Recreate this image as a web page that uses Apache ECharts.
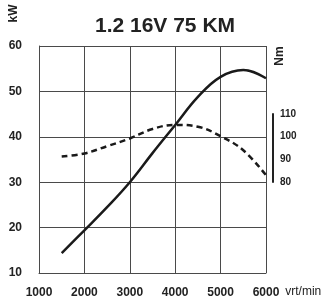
<!DOCTYPE html>
<html>
<head>
<meta charset="utf-8">
<script src="https://cdn.jsdelivr.net/npm/echarts@6/dist/echarts.min.js"></script>
<style>
    html, body { margin: 0; padding: 0; background: #fff; }
    #chartDiv { width: 331px; height: 303px; }
</style>
</head>
<body>
<div id="chartDiv"></div>
<script>
// obroty silnika (vrt/min)
var rpm = [1500, 2000, 2500, 3000, 3500, 4000, 4500, 5000, 5500, 6000];
// moc (kW) - linia ciagla
var power = [14.4, 19.4, 24.5, 30, 36.4, 42.6, 48.8, 53.2, 54.7, 52.9];
// moment obrotowy (Nm) - linia przerywana
var torque = [91.2, 92.6, 95.8, 99.2, 103.4, 105.2, 104.4, 100.2, 94, 83];

var kwTicks = [10, 20, 30, 40, 50, 60];
var nmTicks = [80, 90, 100, 110];

var fontFam = "'Liberation Sans Narrow', 'Liberation Sans', Arial, sans-serif";
var gridColor = '#4a4a4a';

function pairs(xs, ys) {
    var out = [];
    for (var i = 0; i < xs.length; i++) {
        out.push([xs[i], ys[i]]);
    }
    return out;
}

var myChart = echarts.init(document.getElementById('chartDiv'));

var option = {
    animation: false,
    title: {
        text: '1.2 16V 75 KM',
        left: 160,
        top: 11,
        textAlign: 'center',
        textStyle: { fontFamily: fontFam, fontSize: 21, fontWeight: 'bold', color: '#222' }
    },
    graphic: [
        {
            type: 'text', x: 13.5, y: 13.5, rotation: Math.PI / 2,
            style: { text: 'kW', fontFamily: fontFam, fontSize: 12, fontWeight: 'bold', fill: '#222', align: 'center', verticalAlign: 'middle' }
        },
        {
            type: 'text', x: 280, y: 56, rotation: Math.PI / 2,
            style: { text: 'Nm', fontFamily: fontFam, fontSize: 12, fontWeight: 'bold', fill: '#222', align: 'center', verticalAlign: 'middle' }
        }
    ],
    grid: [
        { left: 39, right: 65, top: 46, bottom: 30 },
        { left: 39, right: 65, top: 114, bottom: 121 }
    ],
    xAxis: [
        {
            gridIndex: 0,
            type: 'value',
            min: 1000,
            max: 6000,
            interval: 1000,
            name: 'vrt/min',
            nameLocation: 'end',
            nameGap: 19,
            nameTextStyle: { fontFamily: fontFam, fontSize: 12, color: '#222', verticalAlign: 'top', padding: [13, 0, 0, 0] },
            axisLine: { show: true, lineStyle: { color: gridColor, width: 1 } },
            axisTick: { show: false },
            axisLabel: {
                margin: 14, fontFamily: fontFam, fontSize: 12, fontWeight: 'bold', color: '#222',
                showMinLabel: true, showMaxLabel: true,
                formatter: function (v) { return String(v); }
            },
            splitLine: { show: true, lineStyle: { color: gridColor, width: 1 } }
        },
        {
            gridIndex: 1,
            type: 'value',
            min: 1000,
            max: 6000,
            show: false
        }
    ],
    yAxis: [
        {
            gridIndex: 0,
            type: 'value',
            min: kwTicks[0],
            max: kwTicks[kwTicks.length - 1],
            interval: 10,
            axisLine: { show: true, lineStyle: { color: gridColor, width: 1 } },
            axisTick: { show: false },
            axisLabel: { margin: 17, fontFamily: fontFam, fontSize: 12, fontWeight: 'bold', color: '#222', padding: [0, 0, 7, 0] },
            splitLine: { show: true, lineStyle: { color: gridColor, width: 1 } }
        },
        {
            gridIndex: 1,
            type: 'value',
            position: 'right',
            offset: 7,
            min: nmTicks[0],
            max: nmTicks[nmTicks.length - 1],
            interval: 10,
            axisLine: { show: true, lineStyle: { color: '#222', width: 2 } },
            axisTick: { show: false },
            axisLabel: { margin: 7, fontFamily: fontFam, fontSize: 10, fontWeight: 'bold', color: '#222', padding: [0, 0, 4, 0] },
            splitLine: { show: false }
        }
    ],
    series: [
        {
            name: 'kW',
            type: 'line',
            xAxisIndex: 0,
            yAxisIndex: 0,
            smooth: 0.4,
            symbol: 'none',
            lineStyle: { color: '#1a1a1a', width: 2.5 },
            data: pairs(rpm, power)
        },
        {
            name: 'Nm',
            type: 'line',
            xAxisIndex: 1,
            yAxisIndex: 1,
            smooth: 0.4,
            symbol: 'none',
            lineStyle: { color: '#1a1a1a', width: 2.5, type: [6, 4] },
            data: pairs(rpm, torque)
        }
    ]
};
myChart.setOption(option);
</script>
</body>
</html>
